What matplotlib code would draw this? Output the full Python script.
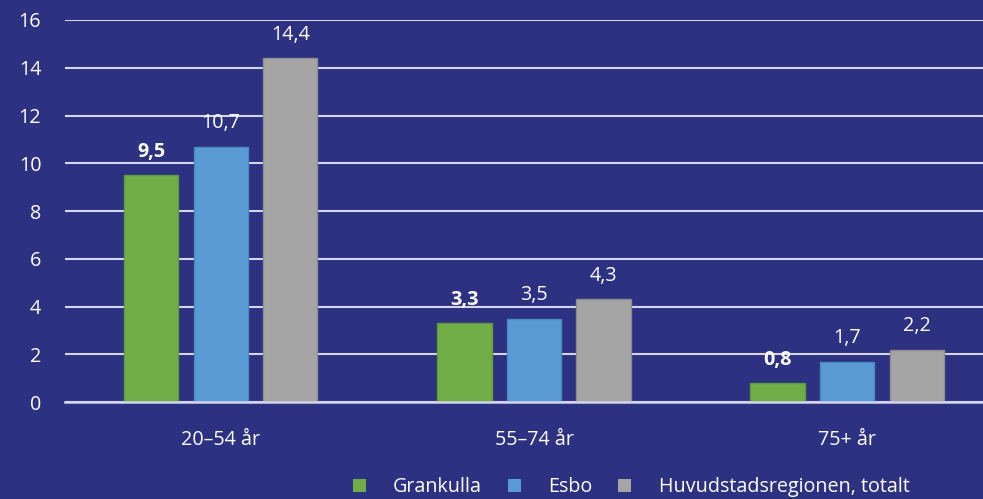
import matplotlib
matplotlib.use("Agg")
import matplotlib.pyplot as plt
import numpy as np
from matplotlib.patches import Patch

plt.rcParams['font.family'] = ['Open Sans', 'DejaVu Sans']

categories = ["20–54 år", "55–74 år", "75+ år"]
series_names = ["Grankulla", "Esbo", "Huvudstadsregionen, totalt"]
grankulla = [9.5, 3.3, 0.8]
esbo = [10.7, 3.5, 1.7]
huvudstad = [14.4, 4.3, 2.2]
labels_g = ["9,5", "3,3", "0,8"]
labels_e = ["10,7", "3,5", "1,7"]
labels_h = ["14,4", "4,3", "2,2"]
yticks = [0, 2, 4, 6, 8, 10, 12, 14, 16]

bg = "#2C3181"
colors = ["#70AD47", "#5B9BD5", "#A5A5A5"]
edges = ["#5E9A3A", "#4A88C2", "#8F8F8F"]

fig = plt.figure(figsize=(9.83, 4.99), dpi=100, facecolor=bg)
ax = fig.add_axes([0.066, 0.194, 0.934, 0.766], facecolor=bg)

x = np.arange(len(categories))
w = 0.173
off = 0.222
data = [grankulla, esbo, huvudstad]
labs = [labels_g, labels_e, labels_h]
fs = 14.2
for i, (vals, lab) in enumerate(zip(data, labs)):
    pos = x + (i - 1) * off
    ax.bar(pos, vals, width=w, color=colors[i], edgecolor=edges[i], linewidth=1, zorder=3)
    for p, v, t in zip(pos, vals, lab):
        ax.text(p, v + 0.55, t, ha='center', va='bottom', color='white', fontsize=fs,
                fontweight='bold' if i == 0 else 'normal', zorder=4)

ax.set_ylim(0, 16)
ax.set_xlim(-0.498, 2.434)
ax.set_yticks(yticks)
ax.set_yticklabels([str(t) for t in yticks], color='white', fontsize=fs)
ax.yaxis.grid(True, color='#D4D4EC', linewidth=1.5, zorder=1)
ax.set_axisbelow(True)
ax.set_xticks(x)
ax.set_xticklabels(categories, color='white', fontsize=fs)
ax.tick_params(axis='both', length=0)
ax.tick_params(axis='x', pad=20)
ax.tick_params(axis='y', pad=17)
for s in ['top', 'right', 'left']:
    ax.spines[s].set_visible(False)
ax.spines['bottom'].set_color('#D4D4EC')
ax.spines['bottom'].set_linewidth(1.8)
ax.spines['bottom'].set_zorder(5)

handles = [Patch(facecolor=c, edgecolor='none') for c in colors]
fig.legend(handles, series_names, loc='lower center', bbox_to_anchor=(0.642, -0.032),
           ncol=3, frameon=False, fontsize=fs, labelcolor='white',
           handlelength=0.65, handleheight=0.65, handletextpad=1.4, columnspacing=1.3)

fig.savefig("out.png", dpi=100, facecolor=bg)
